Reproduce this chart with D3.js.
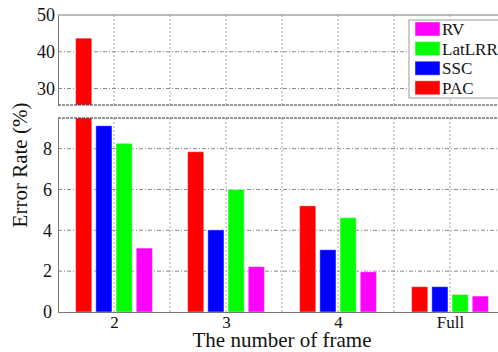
<!DOCTYPE html>
<html>
<head>
<meta charset="utf-8">
<script src="https://cdn.jsdelivr.net/npm/d3@7"></script>
<style>
  body { margin: 0; background: #fff; }
  svg text { font-family: "Liberation Serif", "Times New Roman", serif; fill: #111; }
</style>
</head>
<body>
<div id="chart"></div>
<script>
// data
const frames = ["2", "3", "4", "Full"];
const series = ["PAC", "SSC", "LatLRR", "RV"];
const colors = ["#ff0000", "#0000ff", "#00ff00", "#ff00ff"];
const PAC = [43.7, 7.85, 5.2, 1.24];
const SSC = [9.12, 4.02, 3.05, 1.24];
const LatLRR = [8.26, 6.0, 4.62, 0.86];
const RV = [3.13, 2.22, 1.97, 0.78];
const lowTicks = [0, 2, 4, 6, 8];
const highTicks = [30, 40, 50];
const legendOrder = ["RV", "LatLRR", "SSC", "PAC"];

const values = { PAC, SSC, LatLRR, RV };

let width = 498, height = 352;
let left = 58, right = 506;
let lowTop = 118, lowBot = 312, highTop = 15, highBot = 105;

let svg = d3.select("#chart").append("svg")
    .attr("width", width)
    .attr("height", height);

let x = d3.scaleLinear().domain([0.5, 4.5]).range([left, right]);
let xInner = d3.scaleBand().domain(series).range([-38.4, 38.4]).paddingInner(0.2);
let yLow = d3.scaleLinear().domain([0, 9.5]).range([lowBot, lowTop]);
let yHigh = d3.scaleLinear().domain([25.5, 50]).range([highBot, highTop]);
let color = d3.scaleOrdinal().domain(series).range(colors);

// vertical grid (every half step)
let vGrid = d3.range(1, 4.51, 0.5);
[[lowTop, lowBot], [highTop, highBot]].forEach(([a, b]) => {
    svg.append("g").selectAll("line")
        .data(vGrid)
        .join("line")
        .attr("x1", d => x(d)).attr("x2", d => x(d))
        .attr("y1", a).attr("y2", b)
        .attr("stroke", "#aaa")
        .attr("stroke-dasharray", "2,2");
});

// horizontal grid
svg.append("g").selectAll("line")
    .data(lowTicks.filter(d => d > 0))
    .join("line")
    .attr("x1", left).attr("x2", right)
    .attr("y1", d => yLow(d)).attr("y2", d => yLow(d))
    .attr("stroke", "#888")
    .attr("stroke-dasharray", "4,2,1,2");
svg.append("g").selectAll("line")
    .data(highTicks.filter(d => d < 50))
    .join("line")
    .attr("x1", left).attr("x2", right)
    .attr("y1", d => yHigh(d)).attr("y2", d => yHigh(d))
    .attr("stroke", "#888")
    .attr("stroke-dasharray", "4,2,1,2");

// bars
let barData = [];
frames.forEach((f, i) => {
    series.forEach(s => barData.push({ frame: i + 1, s: s, v: values[s][i] }));
});

let bars = svg.append("g");
bars.selectAll("rect.low")
    .data(barData)
    .join("rect")
    .attr("class", "low")
    .attr("x", d => x(d.frame) + xInner(d.s))
    .attr("width", xInner.bandwidth())
    .attr("y", d => yLow(Math.min(d.v, 9.5)))
    .attr("height", d => yLow(0) - yLow(Math.min(d.v, 9.5)))
    .attr("fill", d => color(d.s))
    .attr("stroke", "rgba(255,255,255,0.45)")
    .attr("stroke-width", 1);
bars.selectAll("rect.high")
    .data(barData.filter(d => d.v > 25.5))
    .join("rect")
    .attr("class", "high")
    .attr("x", d => x(d.frame) + xInner(d.s))
    .attr("width", xInner.bandwidth())
    .attr("y", d => yHigh(d.v))
    .attr("height", d => yHigh(25.5) - yHigh(d.v))
    .attr("fill", d => color(d.s))
    .attr("stroke", "rgba(255,255,255,0.45)")
    .attr("stroke-width", 1);

// axes
let axisLow = svg.append("g")
    .attr("transform", `translate(${left},0)`)
    .call(d3.axisLeft(yLow).tickValues(lowTicks).tickSize(0).tickPadding(6));
let axisHigh = svg.append("g")
    .attr("transform", `translate(${left},0)`)
    .call(d3.axisLeft(yHigh).tickValues(highTicks).tickSize(0).tickPadding(3));
[axisLow, axisHigh].forEach(a => {
    a.select(".domain").attr("stroke", "#777");
    a.selectAll("text").attr("font-size", 18).attr("font-family", "Liberation Serif").attr("fill", "#111");
});

let xAxis = svg.append("g")
    .attr("transform", `translate(0,${lowBot})`)
    .call(d3.axisBottom(x).tickValues([1, 2, 3, 4]).tickFormat((d, i) => frames[i]).tickSize(0).tickPadding(4));
xAxis.select(".domain").attr("stroke", "#777");
xAxis.selectAll("text").attr("font-size", 17).attr("font-family", "Liberation Serif").attr("fill", "#111");

// top border
svg.append("line")
    .attr("x1", left).attr("x2", right)
    .attr("y1", highTop).attr("y2", highTop)
    .attr("stroke", "#777");

// break lines
[highBot, lowTop].forEach(yy => {
    svg.append("line")
        .attr("x1", left).attr("x2", right)
        .attr("y1", yy).attr("y2", yy)
        .attr("stroke", "#333")
        .attr("stroke-width", 1.2)
        .attr("stroke-dasharray", "3,1");
});

// legend
let legend = svg.append("g").attr("transform", "translate(409,20)");
legend.append("rect")
    .attr("width", 100).attr("height", 78)
    .attr("fill", "#fff")
    .attr("stroke", "#999");
let items = legend.selectAll("g.item")
    .data(legendOrder)
    .join("g")
    .attr("class", "item")
    .attr("transform", (d, i) => `translate(6,${9 + i * 19.6})`);
items.append("rect")
    .attr("y", -7).attr("width", 25).attr("height", 14)
    .attr("fill", d => color(d))
    .attr("stroke", "rgba(255,255,255,0.45)");
items.append("text")
    .attr("x", 27).attr("y", 6)
    .attr("font-size", 17)
    .text(d => d);

// axis titles
svg.append("text")
    .attr("x", (left + right) / 2).attr("y", 347)
    .attr("text-anchor", "middle")
    .attr("font-size", 21)
    .text("The number of frame");
svg.append("text")
    .attr("transform", "translate(27,165) rotate(-90)")
    .attr("text-anchor", "middle")
    .attr("font-size", 21)
    .text("Error Rate (%)");
</script>
</body>
</html>
